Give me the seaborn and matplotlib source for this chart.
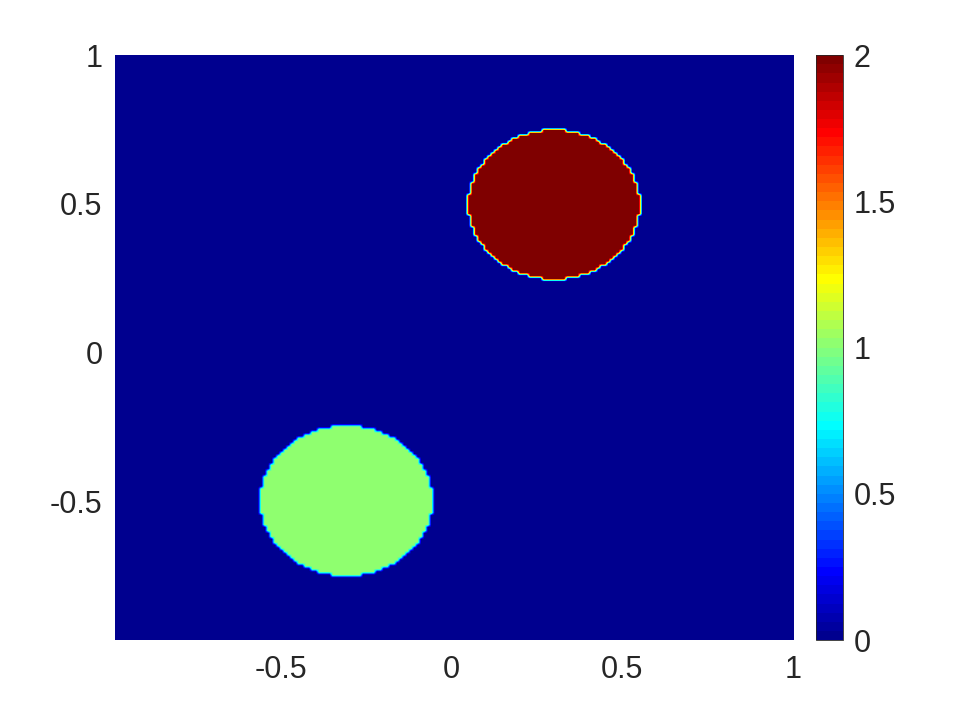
import numpy as np
import matplotlib
matplotlib.use("Agg")
import matplotlib.pyplot as plt
from matplotlib.colors import ListedColormap
import seaborn as sns

# Field parameters
circle_cx = [0.3, -0.31]
circle_cy = [0.5, -0.5]
circle_r = [0.252, 0.254]
circle_val = [2.0, 1.0]
background_val = 0.0
grid_n = 200
x_ticks = [-0.5, 0, 0.5, 1]
y_ticks = [-0.5, 0, 0.5, 1]
cbar_ticks = [0, 0.5, 1, 1.5, 2]
x_limits = [-0.985, 1.0]
y_limits = [-0.965, 1.0]

sns.set_theme(style="white")
plt.rcParams['font.family'] = ['Liberation Sans', 'DejaVu Sans']


def matlab_jet(m=64):
    n = int(np.ceil(m / 4))
    u = np.concatenate([np.arange(1, n + 1) / n, np.ones(n - 1), np.arange(n, 0, -1) / n])
    g = int(np.ceil(n / 2)) - (1 if m % 4 == 1 else 0) + np.arange(1, len(u) + 1)
    r = g + n
    b = g - n
    J = np.zeros((m, 3))
    ok = r <= m
    J[r[ok] - 1, 0] = u[ok]
    ok = g <= m
    J[g[ok] - 1, 1] = u[ok]
    ok = b >= 1
    J[b[ok] - 1, 2] = u[ok]
    return ListedColormap(J)


xs = np.linspace(-1, 1, grid_n + 1)
ys = np.linspace(-1, 1, grid_n + 1)
X, Y = np.meshgrid(xs, ys)
Z = np.full_like(X, background_val)
for cx, cy, r, v in zip(circle_cx, circle_cy, circle_r, circle_val):
    Z[(X - cx) ** 2 + (Y - cy) ** 2 < r ** 2] = v

fig = plt.figure(figsize=(9.6, 7.2), dpi=100)
ax = fig.add_axes([0.1198, 0.111, 0.7063, 0.8125])
cax = fig.add_axes([0.850, 0.111, 0.028, 0.8125])

cmap = matlab_jet(64)
im = ax.imshow(Z, cmap=cmap, vmin=0, vmax=2, origin='lower',
               extent=[xs[0], xs[-1], ys[0], ys[-1]], aspect='auto',
               interpolation='bilinear', interpolation_stage='data')
ax.set_xlim(x_limits)
ax.set_ylim(y_limits)
ax.set_xticks(x_ticks)
ax.set_yticks(y_ticks)
ax.set_xticklabels([f"{t:g}" for t in x_ticks])
ax.set_yticklabels([f"{t:g}" for t in y_ticks])
for s in ax.spines.values():
    s.set_visible(False)
ax.tick_params(axis='both', length=0, labelsize=22, colors='#262626', pad=11)
ax.tick_params(axis='y', pad=9)

cb = fig.colorbar(im, cax=cax, ticks=cbar_ticks)
cb.ax.set_yticklabels([f"{t:g}" for t in cbar_ticks])
cb.ax.tick_params(length=0, labelsize=22, colors='#262626', pad=8)
cb.outline.set_linewidth(0.6)
cb.outline.set_edgecolor('#262626')

fig.savefig("out.png", dpi=100)
